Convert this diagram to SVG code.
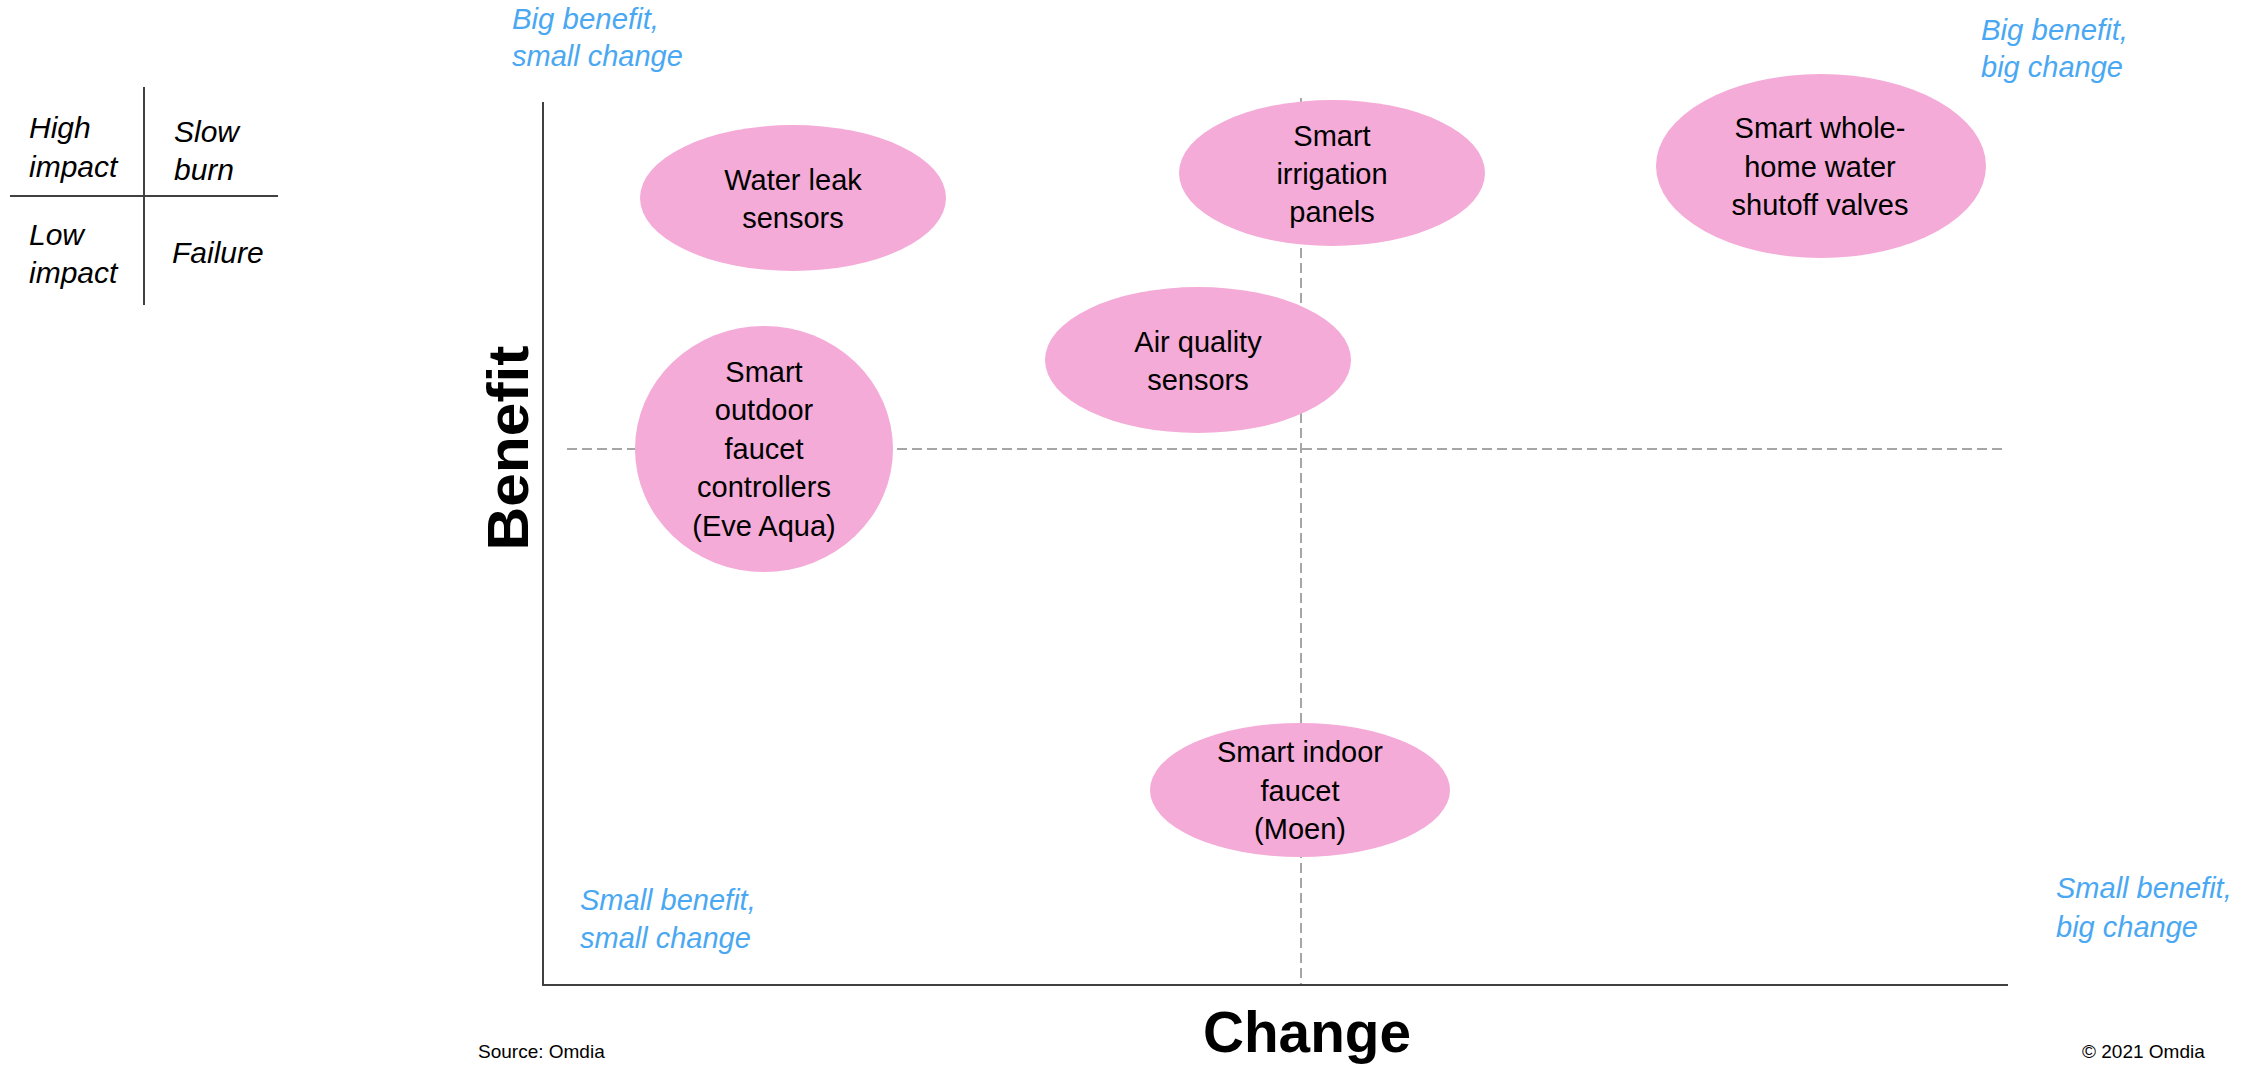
<svg xmlns="http://www.w3.org/2000/svg" width="2251" height="1065" viewBox="0 0 2251 1065">
<style>
.bg{fill:#ffffff}
.node{fill:#f4abd7}
.nt{font-family:"Liberation Sans",Arial,sans-serif;font-size:29px;fill:#000;text-anchor:middle}
.blue{font-family:"Liberation Sans",Arial,sans-serif;font-size:29px;font-style:italic;fill:#4aa8f2}
.leg{font-family:"Liberation Sans",Arial,sans-serif;font-size:30px;font-style:italic;fill:#000}
.axis{stroke:#404040;stroke-width:2;fill:none}
.dash{stroke:#a6a6a6;stroke-width:2;stroke-dasharray:10 5;fill:none}
.title{font-family:"Liberation Sans",Arial,sans-serif;font-size:58px;font-weight:bold;fill:#000;text-anchor:middle}
.small{font-family:"Liberation Sans",Arial,sans-serif;font-size:19px;fill:#000}
</style>
<rect class="bg" x="0" y="0" width="2251" height="1065"/>

<g id="legend">
<line class="axis" x1="144" y1="87" x2="144" y2="305"/>
<line class="axis" x1="10" y1="196" x2="278" y2="196"/>
<text class="leg" x="29" y="138">High</text>
<text class="leg" x="29" y="177">impact</text>
<text class="leg" x="174" y="142">Slow</text>
<text class="leg" x="174" y="180">burn</text>
<text class="leg" x="29" y="245">Low</text>
<text class="leg" x="29" y="283">impact</text>
<text class="leg" x="172" y="263">Failure</text>
</g>

<g id="connectors">
<line class="dash" x1="567" y1="449" x2="2007" y2="449"/>
<line class="dash" x1="1301" y1="98" x2="1301" y2="985"/>
<line class="axis" x1="543" y1="102" x2="543" y2="986"/>
<line class="axis" x1="542" y1="985" x2="2008" y2="985"/>
</g>

<g id="quadrant-labels">
<text class="blue" x="512" y="29" textLength="147" lengthAdjust="spacingAndGlyphs">Big benefit,</text>
<text class="blue" x="512" y="66">small change</text>
<text class="blue" x="1981" y="40" textLength="147" lengthAdjust="spacingAndGlyphs">Big benefit,</text>
<text class="blue" x="1981" y="77">big change</text>
<text class="blue" x="580" y="910">Small benefit,</text>
<text class="blue" x="580" y="948">small change</text>
<text class="blue" x="2056" y="898">Small benefit,</text>
<text class="blue" x="2056" y="937">big change</text>
</g>

<g id="node-water-leak">
<ellipse class="node" cx="793" cy="198" rx="153" ry="73"/>
<text class="nt" x="793" y="190">Water leak</text>
<text class="nt" x="793" y="228">sensors</text>
</g>

<g id="node-irrigation">
<ellipse class="node" cx="1332" cy="173" rx="153" ry="73"/>
<text class="nt" x="1332" y="146">Smart</text>
<text class="nt" x="1332" y="184">irrigation</text>
<text class="nt" x="1332" y="222">panels</text>
</g>

<g id="node-shutoff">
<ellipse class="node" cx="1821" cy="166" rx="165" ry="92"/>
<text class="nt" x="1820" y="138">Smart whole-</text>
<text class="nt" x="1820" y="177">home water</text>
<text class="nt" x="1820" y="215">shutoff valves</text>
</g>

<g id="node-air-quality">
<ellipse class="node" cx="1198" cy="360" rx="153" ry="73"/>
<text class="nt" x="1198" y="352">Air quality</text>
<text class="nt" x="1198" y="390">sensors</text>
</g>

<g id="node-outdoor-faucet">
<ellipse class="node" cx="764" cy="449" rx="129" ry="123"/>
<text class="nt" x="764" y="382">Smart</text>
<text class="nt" x="764" y="420">outdoor</text>
<text class="nt" x="764" y="459">faucet</text>
<text class="nt" x="764" y="497">controllers</text>
<text class="nt" x="764" y="536">(Eve Aqua)</text>
</g>

<g id="node-indoor-faucet">
<ellipse class="node" cx="1300" cy="790" rx="150" ry="67"/>
<text class="nt" x="1300" y="762">Smart indoor</text>
<text class="nt" x="1300" y="801">faucet</text>
<text class="nt" x="1300" y="839">(Moen)</text>
</g>

<g id="axis-titles">
<text class="title" x="1307" y="1052" textLength="208" lengthAdjust="spacingAndGlyphs">Change</text>
<text class="title" transform="translate(528 448) rotate(-90)" x="0" y="0" textLength="205" lengthAdjust="spacingAndGlyphs">Benefit</text>
</g>

<g id="footer">
<text class="small" x="478" y="1058">Source: Omdia</text>
<text class="small" x="2082" y="1058">© 2021 Omdia</text>
</g>
</svg>
